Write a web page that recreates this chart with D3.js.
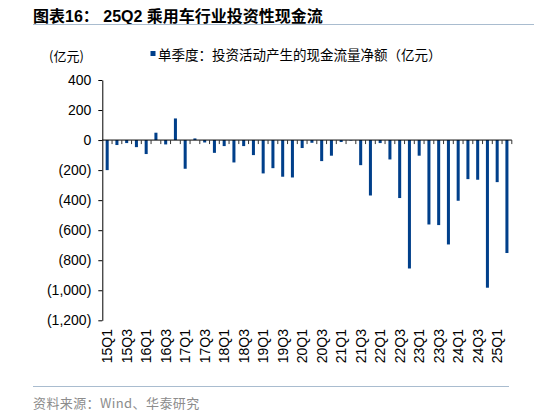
<!DOCTYPE html>
<html>
<head>
<meta charset="utf-8">
<script src="https://cdn.jsdelivr.net/npm/d3@7/dist/d3.min.js"></script>
<style>
  body { margin: 0; background: #fff; }
  svg { display: block; }
  .tick text { font-family: "Liberation Sans", Arial, sans-serif; }
</style>
</head>
<body>
<svg id="chart" width="534" height="412"></svg>
<script>
"use strict";

// quarterly net cash flow from investing activities (亿元)
var quarters = [
  "15Q1","15Q2","15Q3","15Q4","16Q1","16Q2","16Q3","16Q4",
  "17Q1","17Q2","17Q3","17Q4","18Q1","18Q2","18Q3","18Q4",
  "19Q1","19Q2","19Q3","19Q4","20Q1","20Q2","20Q3","20Q4",
  "21Q1","21Q2","21Q3","21Q4","22Q1","22Q2","22Q3","22Q4",
  "23Q1","23Q2","23Q3","23Q4","24Q1","24Q2","24Q3","24Q4",
  "25Q1","25Q2"
];
var netInvestCash = [
  -200, -33, -20, -47, -93, 49, -29, 144,
  -191, 11, -16, -85, -40, -149, -40, -100,
  -222, -187, -244, -249, -53, -18, -140, -104,
  -13, -3, -167, -369, -20, -129, -386, -855,
  -104, -562, -566, -695, -404, -260, -264, -983,
  -280, -752
];
var yTicks = [400, 200, 0, -200, -400, -600, -800, -1000, -1200];
var labelQuarters = quarters.filter(function(d, i) { return i % 2 === 0; });

var svg = d3.select("#chart");
var cjk = "'Noto Sans CJK SC', sans-serif";
var latin = "'Liberation Sans', Arial, 'Noto Sans CJK SC', sans-serif";

var plot = { l: 102.3, r: 511.8, t: 80, b: 320.3 };

// header & footer
svg.append("text")
  .attr("x", 33).attr("y", 22)
  .style("font-family", latin)
  .style("font-size", "16px")
  .style("font-weight", "bold")
  .text("图表16：  25Q2 乘用车行业投资性现金流");

svg.append("line")
  .attr("x1", 33).attr("x2", 534).attr("y1", 24.5).attr("y2", 24.5)
  .attr("stroke", "#a9bccf").attr("stroke-width", 1.2);

svg.append("line")
  .attr("x1", 33).attr("x2", 509).attr("y1", 386.5).attr("y2", 386.5)
  .attr("stroke", "#a9bccf").attr("stroke-width", 1.2);

svg.append("text")
  .attr("x", 33).attr("y", 402)
  .attr("dominant-baseline", "central")
  .style("font-family", cjk)
  .style("font-size", "13px")
  .style("letter-spacing", "0.4px")
  .attr("fill", "#8c8c8c")
  .text("资料来源：Wind、华泰研究");

svg.append("text")
  .attr("x", 49).attr("y", 55)
  .attr("dominant-baseline", "central")
  .style("font-family", cjk)
  .style("font-size", "13px")
  .text("(亿元)");

// legend
svg.append("rect")
  .attr("x", 150.5).attr("y", 51).attr("width", 5).attr("height", 5)
  .attr("fill", "#003f8a");
svg.append("text")
  .attr("x", 158).attr("y", 53.5)
  .attr("dominant-baseline", "central")
  .style("font-family", cjk)
  .style("font-size", "13.5px")
  .text("单季度：投资活动产生的现金流量净额（亿元）");

// scales
var x = d3.scaleBand()
  .domain(quarters)
  .range([plot.l, plot.r])
  .paddingInner(0.69)
  .paddingOuter(0.345);

var y = d3.scaleLinear()
  .domain([-1200, 400])
  .range([plot.b, plot.t]);

var gap = (x.step() - x.bandwidth()) / 2;

// y axis
var yAxis = d3.axisLeft(y)
  .tickValues(yTicks)
  .tickSize(4)
  .tickSizeOuter(0)
  .tickPadding(7)
  .tickFormat(function(d) {
    var s = d3.format(",")(Math.abs(d));
    return d < 0 ? "(" + s + ")" : s;
  });

var yG = svg.append("g")
  .attr("transform", "translate(" + plot.l + ",0)")
  .call(yAxis);
yG.selectAll("text").style("font-size", "14px").attr("fill", "#000");
yG.selectAll("line, path").attr("stroke", "#000");

// bars
svg.append("g").selectAll("rect")
  .data(netInvestCash)
  .join("rect")
  .attr("x", function(d, i) { return x(quarters[i]); })
  .attr("width", x.bandwidth())
  .attr("y", function(d) { return y(Math.max(0, d)); })
  .attr("height", function(d) { return Math.abs(y(d) - y(0)); })
  .attr("fill", "#003f8a");

// zero axis with ticks on category boundaries
var y0 = y(0);
svg.append("line")
  .attr("x1", plot.l).attr("x2", plot.r)
  .attr("y1", y0).attr("y2", y0)
  .attr("stroke", "#000").attr("stroke-width", 1);

svg.append("g").selectAll("line")
  .data(quarters)
  .join("line")
  .attr("x1", function(d) { return x(d) + x.bandwidth() + gap; })
  .attr("x2", function(d) { return x(d) + x.bandwidth() + gap; })
  .attr("y1", y0).attr("y2", y0 + 4)
  .attr("stroke", "#333").attr("stroke-width", 1);

// category labels along the bottom
svg.append("g").selectAll("text")
  .data(labelQuarters)
  .join("text")
  .attr("transform", function(d) {
    return "translate(" + (x(d) + x.bandwidth() / 2) + ",329) rotate(-90)";
  })
  .attr("dy", "0.36em")
  .attr("text-anchor", "end")
  .style("font-family", latin)
  .style("font-size", "14px")
  .text(function(d) { return d; });
</script>
</body>
</html>
